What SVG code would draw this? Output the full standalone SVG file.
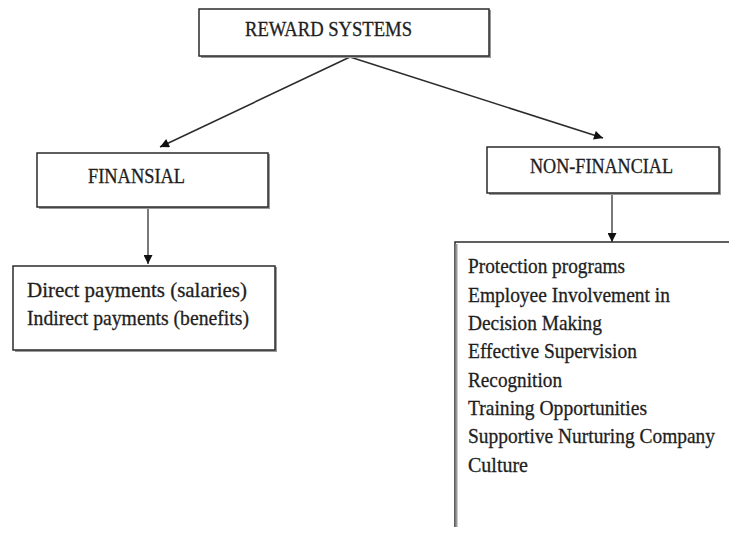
<svg xmlns="http://www.w3.org/2000/svg" width="729" height="533" viewBox="0 0 729 533">
<style>
.box{fill:#fff;stroke:#2b2b2b;stroke-width:1.5}
.sh{fill:none;stroke:#9a9a9a;stroke-width:2}
.hd{font-family:"Liberation Serif","Times New Roman",serif;font-size:20px;fill:#1e1e1e;stroke:#1e1e1e;stroke-width:0.3}
.tx{font-family:"Liberation Serif","Times New Roman",serif;font-size:21px;fill:#1e1e1e;stroke:#1e1e1e;stroke-width:0.3}
.ln{stroke:#2b2b2b;stroke-width:1.6;fill:none}
.lv{stroke:#7a7a7a;stroke-width:2;fill:none}
</style>
<defs>
<marker id="ah" viewBox="0 0 10 10" refX="10" refY="5" markerUnits="userSpaceOnUse" markerWidth="10" markerHeight="9" orient="auto">
<path d="M0,0 L10,5 L0,10 z" fill="#111"/>
</marker>
</defs>
<rect x="0" y="0" width="729" height="533" fill="#fff"/>
<g id="connectors">
<line class="ln" x1="350" y1="57" x2="160" y2="147" marker-end="url(#ah)"/>
<line class="ln" x1="350" y1="57" x2="603" y2="138" marker-end="url(#ah)"/>
<line class="lv" x1="148" y1="208" x2="148" y2="264" marker-end="url(#ah)"/>
<line class="lv" x1="612" y1="194" x2="612" y2="242" marker-end="url(#ah)"/>
</g>
<g id="reward-systems">
<path class="sh" d="M490,10 L490,57 L201,57"/>
<rect class="box" x="199" y="9" width="290" height="47"/>
<text class="hd" x="245" y="36" textLength="167" lengthAdjust="spacingAndGlyphs">REWARD SYSTEMS</text>
</g>
<g id="financial">
<path class="sh" d="M269,154 L269,208 L39,208"/>
<rect class="box" x="37" y="153" width="231" height="54"/>
<text class="hd" x="88" y="183" textLength="97" lengthAdjust="spacingAndGlyphs">FINANSIAL</text>
</g>
<g id="non-financial">
<path class="sh" d="M720,148 L720,194 L489,194"/>
<rect class="box" x="487" y="147" width="232" height="46"/>
<text class="hd" x="530" y="173" textLength="143" lengthAdjust="spacingAndGlyphs">NON-FINANCIAL</text>
</g>
<g id="financial-items">
<path class="sh" d="M276,267 L276,351 L15,351"/>
<rect class="box" x="13" y="266" width="262" height="84"/>
<text class="tx" x="27" y="297" textLength="220" lengthAdjust="spacingAndGlyphs">Direct payments (salaries)</text>
<text class="tx" x="27" y="325" textLength="222" lengthAdjust="spacingAndGlyphs">Indirect payments (benefits)</text>
</g>
<g id="non-financial-items">
<path class="box" d="M740,242 L455,242 L455,527" fill="none"/>
<line class="sh" x1="456.5" y1="244" x2="456.5" y2="527"/>
<text class="tx" x="468" y="273" textLength="157" lengthAdjust="spacingAndGlyphs">Protection programs</text>
<text class="tx" x="468" y="302" textLength="202" lengthAdjust="spacingAndGlyphs">Employee Involvement in</text>
<text class="tx" x="468" y="330" textLength="134" lengthAdjust="spacingAndGlyphs">Decision Making</text>
<text class="tx" x="468" y="358" textLength="169" lengthAdjust="spacingAndGlyphs">Effective Supervision</text>
<text class="tx" x="468" y="387" textLength="94" lengthAdjust="spacingAndGlyphs">Recognition</text>
<text class="tx" x="468" y="415" textLength="179" lengthAdjust="spacingAndGlyphs">Training  Opportunities</text>
<text class="tx" x="468" y="443" textLength="247" lengthAdjust="spacingAndGlyphs">Supportive Nurturing Company</text>
<text class="tx" x="468" y="472" textLength="60" lengthAdjust="spacingAndGlyphs">Culture</text>
</g>
</svg>
